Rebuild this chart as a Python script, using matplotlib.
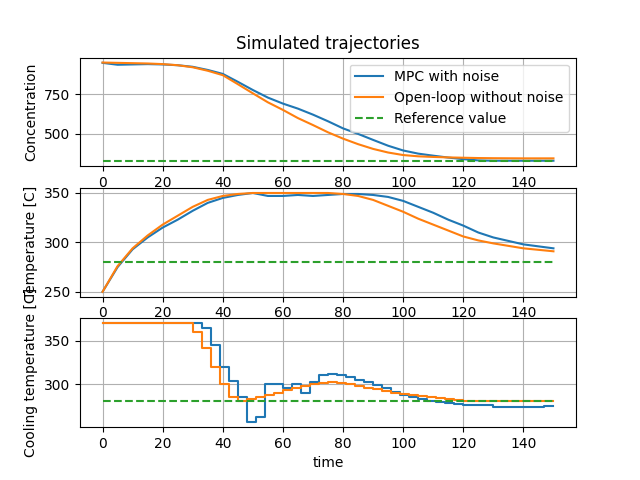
import numpy as np
import matplotlib
matplotlib.use("Agg")
import matplotlib.pyplot as plt

t_c = [0, 5, 10, 15, 20, 25, 30, 35, 40, 45, 50, 55, 60, 65, 70, 75, 80, 85, 90, 95, 100, 105, 110, 115, 120, 125, 130, 140, 150]
conc_mpc = [950, 938, 940, 942, 940, 935, 925, 905, 880, 830, 778, 730, 692, 660, 622, 580, 535, 500, 462, 425, 395, 375, 362, 350, 340, 332, 330, 330, 330]
conc_ol = [952, 950, 948, 946, 942, 935, 922, 900, 872, 815, 757, 700, 652, 600, 556, 510, 470, 435, 405, 382, 366, 358, 354, 351, 349, 347, 346, 345, 345]
temp_mpc = [250, 275, 293, 305, 315, 323, 332, 340, 345, 348, 350, 347, 347, 348, 347, 348, 349, 349, 348, 346, 342, 336, 330, 323, 317, 310, 305, 298, 294]
temp_ol = [250, 276, 294, 307, 318, 327, 336, 343, 347, 349, 350, 350, 350, 350, 350, 350, 349, 347, 343, 337, 331, 324, 318, 312, 306, 302, 299, 294, 291]
t_u = [0, 30, 33, 36, 39, 42, 45, 48, 51, 54, 57, 60, 63, 66, 69, 72, 75, 78, 81, 84, 87, 90, 93, 96, 99, 102, 105, 108, 111, 114, 117, 120, 130, 147, 150]
cool_mpc = [370, 370, 365, 345, 320, 304, 285, 256, 262, 300, 300, 295, 300, 290, 302, 310, 312, 311, 308, 305, 302, 299, 295, 291, 288, 285, 283, 281, 279, 278, 277, 276, 274, 275, 275]
cool_ol = [370, 360, 342, 320, 300, 285, 280, 283, 285, 287, 290, 293, 296, 298, 300, 301, 302, 301, 300, 298, 296, 294, 292, 290, 289, 287, 286, 285, 284, 283, 282, 281, 280, 280, 280]
ref_conc = 326
ref_temp = 280
ref_cool = 280

fig, axs = plt.subplots(3, 1, figsize=(6.4, 4.8), dpi=100)
ax = axs[0]
ax.plot(t_c, conc_mpc, label="MPC with noise")
ax.plot(t_c, conc_ol, label="Open-loop without noise")
ax.plot([0, 150], [ref_conc, ref_conc], "--", label="Reference value")
ax.set_ylabel("Concentration")
ax.set_title("Simulated trajectories")
ax.legend(loc="upper right")
ax = axs[1]
ax.plot(t_c, temp_mpc)
ax.plot(t_c, temp_ol)
ax.plot([0, 150], [ref_temp, ref_temp], "--")
ax.set_ylabel("Temperature [C]")
ax = axs[2]
ax.step(t_u, cool_mpc, where="post")
ax.step(t_u, cool_ol, where="post")
ax.plot([0, 150], [ref_cool, ref_cool], "--")
ax.set_ylabel("Cooling temperature [C]")
ax.set_xlabel("time")
for a in axs:
    a.grid(True)
plt.savefig("out.png")
